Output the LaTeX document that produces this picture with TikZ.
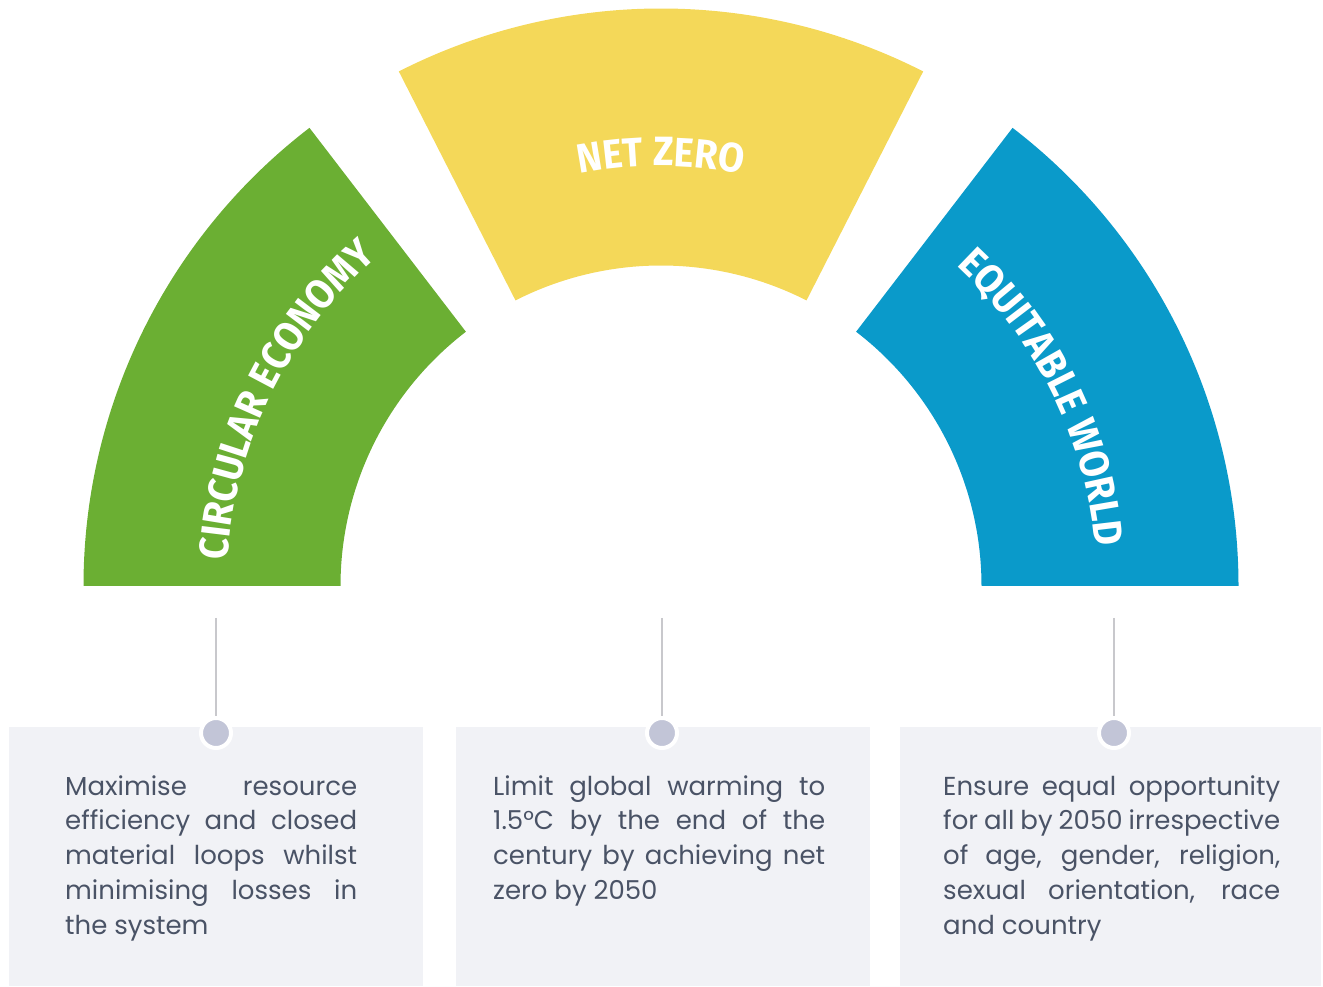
\documentclass[tikz,border=0pt]{standalone}
\usepackage{fontspec}
\setmainfont{Poppins}
\newfontfamily\labelfont[FakeStretch=0.92]{Fira Sans}
\usetikzlibrary{decorations.text}

\definecolor{ceGreen}{HTML}{6BAF33}
\definecolor{nzYellow}{HTML}{F4D859}
\definecolor{ewBlue}{HTML}{0A9ACA}
\definecolor{boxgray}{HTML}{F1F2F6}
\definecolor{dotgray}{HTML}{C2C5D7}
\definecolor{stemgray}{HTML}{C8C8CC}
\definecolor{bodygray}{HTML}{4A5366}

\tikzset{
  stem/.style={draw=stemgray, line width=1.5pt},
  dot/.style={circle, fill=dotgray, draw=white, line width=4pt, minimum size=30pt, inner sep=0pt},
  infobox/.style={fill=boxgray, inner sep=0pt, anchor=south west, minimum height=259pt},
  desc/.style={inner sep=0pt, anchor=north west, align=justify, text=bodygray,
    font=\fontsize{26}{34.8}\selectfont},
  arclabel/.style={decorate, decoration={text along path, text align=center, text color=white,
    text={|\labelfont\bfseries\fontsize{41}{41}\selectfont|#1}}}
}

\begin{document}
\begin{tikzpicture}[x=1pt, y=1pt]
\useasboundingbox (0,0) rectangle (1323,986);
\coordinate (c) at (661,400);

% the three sectors
\foreach \a/\b/\col in {127.5/180/ceGreen, 63/117/nzYellow, 0/52.5/ewBlue}
  \fill[\col] ([shift={(\a:577.5)}]c) arc[start angle=\a, end angle=\b, radius=577.5]
    -- ([shift={(\b:320.5)}]c) arc[start angle=\b, end angle=\a, radius=320.5] -- cycle;

\path[arclabel=CIRCULAR ECONOMY] ([shift={(180:434)}]c) arc[start angle=180, end angle=127.5, radius=434];
\path[arclabel=NET ZERO] ([shift={(117:420)}]c) arc[start angle=117, end angle=63, radius=420];
\path[arclabel=EQUITABLE WORLD] ([shift={(52.5:436)}]c) arc[start angle=52.5, end angle=0, radius=436];

% boxes
\node[infobox, minimum width=414pt] (box1) at (9,0) {};
\node[infobox, minimum width=414pt] (box2) at (456,0) {};
\node[infobox, minimum width=421pt] (box3) at (900,0) {};

\coordinate (top1) at (216,368);
\coordinate (top2) at (662,368);
\coordinate (top3) at (1114,368);
\node[dot] (dot1) at (216,253) {};
\node[dot] (dot2) at (662,253) {};
\node[dot] (dot3) at (1114,253) {};
\draw[stem] (top1) -- (dot1.north);
\draw[stem] (top2) -- (dot2.north);
\draw[stem] (top3) -- (dot3.north);

\node[desc, text width=292pt] (txt1) at (65,215.4)
  {\strut Maximise resource\linebreak efficiency and closed\linebreak material loops whilst\linebreak minimising losses in\linebreak the system};
\node[desc, text width=332pt] (txt2) at (493,215.4)
  {\strut Limit global warming to\linebreak 1.5°C by the end of the\linebreak century by achieving net\linebreak zero by 2050};
\node[desc, text width=337pt] (txt3) at (943,215.4)
  {\strut Ensure equal opportunity\linebreak for all by 2050 irrespective\linebreak of age, gender, religion,\linebreak sexual orientation, race\linebreak and country};
\end{tikzpicture}
\end{document}
